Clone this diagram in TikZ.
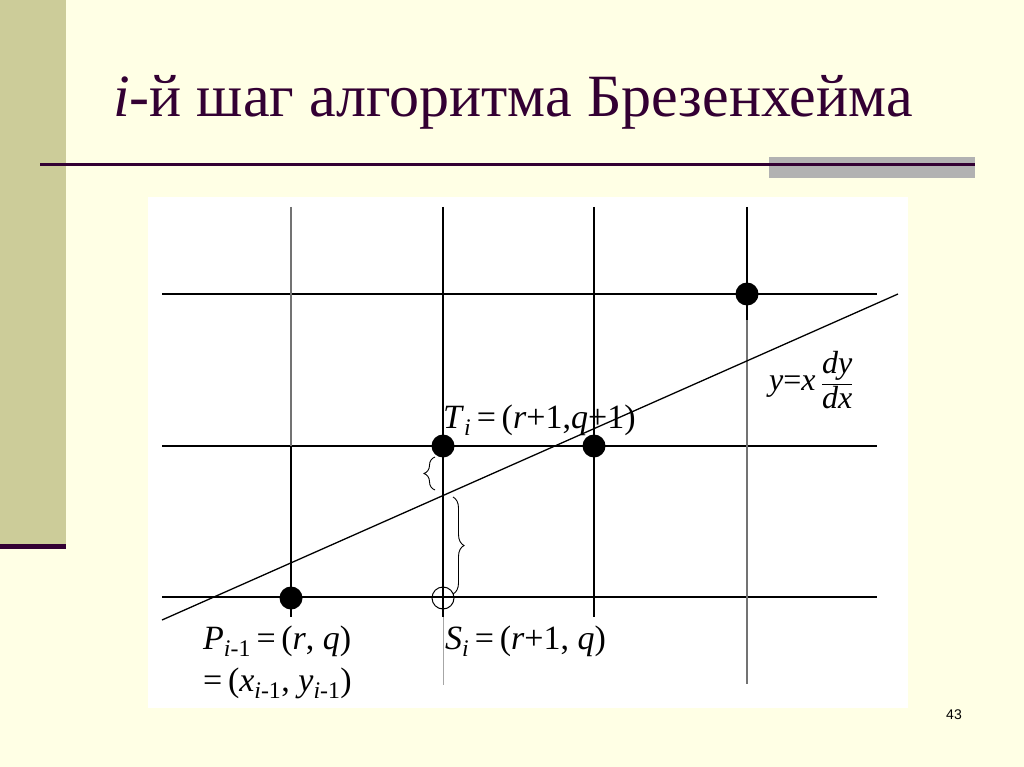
\documentclass[tikz,border=0pt]{standalone}
\usepackage{fontspec}
\setmainfont{Liberation Serif}
\newfontfamily\pgnum{Liberation Sans}
\usetikzlibrary{decorations.pathreplacing}
\definecolor{bgc}{HTML}{FFFFE5}
\definecolor{side}{HTML}{CCCC99}
\definecolor{ttl}{HTML}{330033}
\definecolor{barg}{HTML}{B2B2B2}
\begin{document}
\begin{tikzpicture}[x=1pt,y=-1pt,
  gridline/.style={line width=1.5pt,black},
  faint/.style={line width=1.3pt,black!55},
  dot/.style={circle,fill=black,inner sep=0pt,minimum size=23pt},
  hollow/.style={circle,draw=black,line width=1pt,inner sep=0pt,minimum size=22pt},
  lbl/.style={inner sep=0pt,font=\fontsize{34}{40}\selectfont},
  brc/.style={decorate,decoration={brace,amplitude=11pt},line width=0.9pt}]
\fill[bgc] (0,0) rectangle (1024,767);
\useasboundingbox (0,0) rectangle (1024,767);
% sidebar and title rule
\fill[side] (0,0) rectangle (66,544);
\fill[ttl] (0,544) rectangle (66,549);
\fill[barg] (769,157) rectangle (975,178);
\draw[ttl,line width=3pt] (40,165) -- (975,165);
\node[anchor=base west,inner sep=0pt,text=ttl,font=\fontsize{60}{66}\selectfont] (title) at (113,117) {\textit{i}-й шаг алгоритма Брезенхейма};
% diagram panel
\fill[white] (148,197) rectangle (908,708);
% horizontal grid lines
\draw[gridline] (162,294) -- (877,294);
\draw[gridline] (162,446) -- (877,446);
\draw[gridline] (162,597) -- (877,597);
% vertical grid lines
\draw[faint] (291,207) -- (291,446);
\draw[gridline] (291,446) -- (291,617);
\draw[gridline] (443,207) -- (443,617);
\draw[line width=0.8pt,black!35] (443,617) -- (443,685);
\draw[gridline] (594,207) -- (594,617);
\draw[gridline] (747,207) -- (747,320);
\draw[faint] (747,320) -- (747,684);
% the line y = x dy/dx
\coordinate (L0) at (162,620);
\coordinate (L1) at (898,294);
\draw[line width=1.3pt] (L0) -- (L1);
% pixels
\node[dot] (P) at (291,598) {};
\node[dot] (T) at (443,446) {};
\node[dot] (Q) at (594,446) {};
\node[dot] (U) at (747,294) {};
\node[hollow] (S) at (443,598) {};
% braces
\coordinate (b1) at (435,490);
\coordinate (b2) at (435,457);
\draw[brc] (b1) -- (b2);
\coordinate (b3) at (453,497);
\coordinate (b4) at (453,594);
\draw[brc] (b3) -- (b4);
% labels
\node[lbl,anchor=base west] (Tl) at (443,428) {\textit{T}\textsubscript{\textit{i}}\,=\,(\textit{r}+1,\textit{q}+1)};
\node[lbl,anchor=base west] (Sl) at (445,649) {\textit{S}\textsubscript{\textit{i}}\,=\,(\textit{r}+1, \textit{q})};
\node[lbl,anchor=base west] (Pl) at (203,649) {\textit{P}\textsubscript{\textit{i}-1}\,=\,(\textit{r}, \textit{q})};
\node[lbl,anchor=base west] (Pl2) at (203,691) {=\,(\textit{x}\textsubscript{\textit{i}-1}, \textit{y}\textsubscript{\textit{i}-1})};
\node[inner sep=0pt,anchor=west,font=\fontsize{32}{36}\selectfont] (eq) at (769,380) {\textit{y}=\textit{x}\,$\displaystyle\frac{\mbox{\itshape dy}}{\mbox{\itshape dx}}$};
\node[inner sep=0pt,font=\pgnum\fontsize{14}{16}\selectfont] (pg) at (954,715) {43};
\end{tikzpicture}
\end{document}
